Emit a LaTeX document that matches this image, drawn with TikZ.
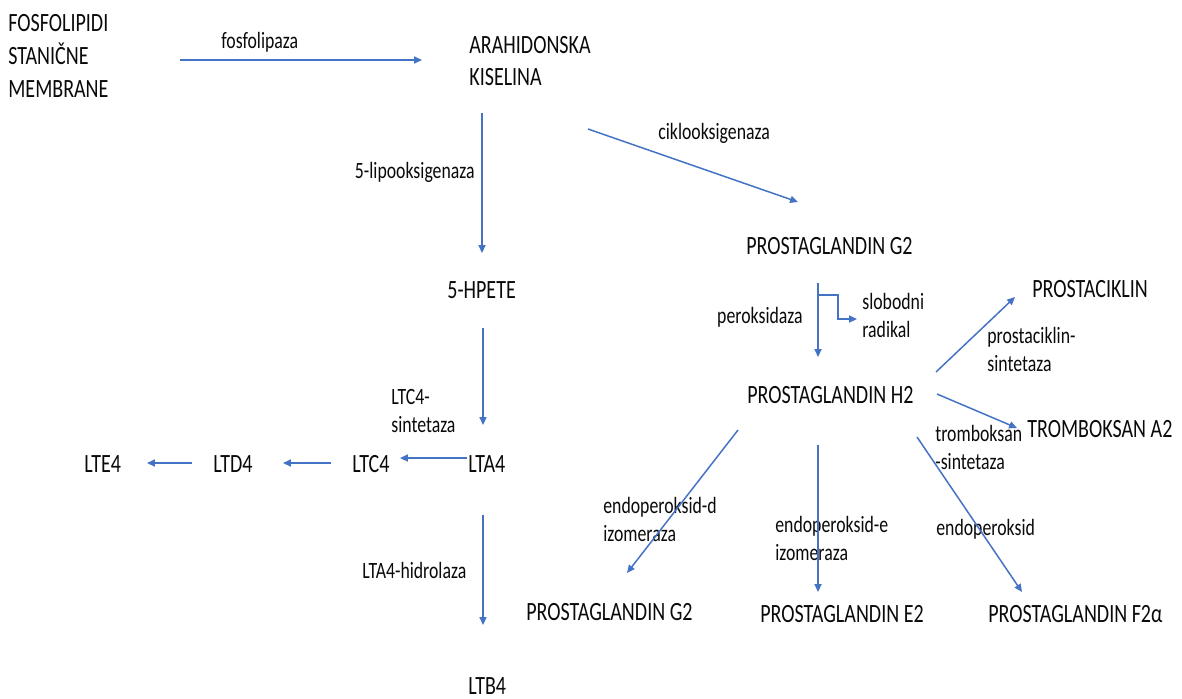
\documentclass[tikz,border=0pt]{standalone}
\usepackage{fontspec}
\usetikzlibrary{arrows.meta,calc}
\newfontfamily\diafont{Carlito}[FakeStretch=0.76]
\definecolor{arrblue}{RGB}{68,114,196}
\definecolor{txtgray}{RGB}{10,10,10}

\begin{document}
\begin{tikzpicture}[x=0.02cm, y=-0.02cm,
    big/.style = {font=\diafont\fontsize{15}{18.7}\selectfont, text=txtgray, inner sep=0},
    lbl/.style = {font=\diafont\fontsize{13.3}{15.9}\selectfont, text=txtgray, inner sep=0},
    arr/.style = {draw=arrblue, line width=0.85pt, -{Triangle[length=4.5pt, width=4pt]}}]

    \useasboundingbox (0,0) rectangle (1182,698);

    \node[big, anchor=west, align=left] (fos) at (8,56) {FOSFOLIPIDI\\STANIČNE\\MEMBRANE};
    \node[big, anchor=west, align=left] (ak) at (469,61) {ARAHIDONSKA\\KISELINA};
    \node[lbl, anchor=base west] (fosfo) at (221,48) {fosfolipaza};
    \draw[arr] ($(fos.west)+(172,4)$) -- ($(ak.west)+(-47,-1)$);

    %--------------------------------------------

    \node[big, anchor=base west] (hpete) at (447,298) {5-HPETE};
    \node[big, anchor=base west] (pgg2) at (746,254) {PROSTAGLANDIN G2};
    \node[lbl, anchor=base east] (lipo) at (475,178) {5-lipooksigenaza};
    \node[lbl, anchor=base west] (ciklo) at (658,139) {ciklooksigenaza};
    \draw[arr] ($(ak.west)+(13,52)$) -- ($(hpete.base west)+(35,-45)$);
    \draw[arr] ($(ak.west)+(119,68)$) -- ($(pgg2.base west)+(52,-52)$);

    %--------------------------------------------

    \node[big, anchor=base west] (lta4) at (468,472) {LTA4};
    \node[big, anchor=base west] (ltc4) at (352,472) {LTC4};
    \node[big, anchor=base west] (ltd4) at (213,472) {LTD4};
    \node[big, anchor=base west] (lte4) at (84,472) {LTE4};
    \node[big, anchor=base west] (ltb4) at (468,694) {LTB4};
    \node[lbl, anchor=west, align=left] (ltc4s) at (391,411) {LTC4-\\sintetaza};
    \node[lbl, anchor=base west] (hidro) at (362,578) {LTA4-hidrolaza};

    \draw[arr] ($(hpete.base west)+(36,30)$) -- ($(lta4.base west)+(15,-47)$);
    \draw[arr] ($(lta4.base west)+(-1,-14)$) -- ($(ltc4.base west)+(48,-14)$);
    \draw[arr] ($(ltc4.base west)+(-21,-9)$) -- ($(ltd4.base west)+(70,-9)$);
    \draw[arr] ($(ltd4.base west)+(-21,-9)$) -- ($(lte4.base west)+(63,-9)$);
    \draw[arr] ($(lta4.base west)+(15,43)$) -- ($(ltb4.base west)+(15,-69)$);

    %--------------------------------------------

    \node[big, anchor=base west] (pgh2) at (747,403) {PROSTAGLANDIN H2};
    \node[lbl, anchor=base east] (perok) at (803,323) {peroksidaza};
    \node[lbl, anchor=west, align=left] (slob) at (862,315) {slobodni\\radikal};
    \draw[arr] ($(pgg2.base west)+(72,29)$) -- ($(pgh2.base west)+(71,-46)$);
    \draw[arr] ($(pgg2.base west)+(72,41)$) -- ++(20,0) |- ($(slob.west)+(-5,4)$);

    %--------------------------------------------

    \node[big, anchor=base west] (prc) at (1032,297) {PROSTACIKLIN};
    \node[big, anchor=base west] (txa2) at (1027,437) {TROMBOKSAN A2};
    \node[lbl, anchor=west, align=left] (prcs) at (987,349) {prostaciklin-\\sintetaza};
    \node[lbl, anchor=west, align=left] (txas) at (935,447) {tromboksan\\-sintetaza};
    \draw[arr] ($(pgh2.base west)+(189,-31)$) -- ($(prc.base west)+(-17,0)$);
    \draw[arr] ($(pgh2.base west)+(190,-9)$) -- ($(txa2.base west)+(-10,-9)$);

    %--------------------------------------------

    \node[big, anchor=base west] (pgg2b) at (526,620) {PROSTAGLANDIN G2};
    \node[big, anchor=base west] (pge2) at (760,622) {PROSTAGLANDIN E2};
    \node[big, anchor=base west] (pgf2) at (988,622) {PROSTAGLANDIN F2α};
    \node[lbl, anchor=west, align=left] (edd) at (603,519) {endoperoksid-d\\izomeraza};
    \node[lbl, anchor=west, align=left] (ede) at (775,538) {endoperoksid-e\\izomeraza};
    \node[lbl, anchor=base west] (endo) at (936,535) {endoperoksid};
    \draw[arr] ($(pgh2.base west)+(-9,27)$) -- ($(pgg2b.base west)+(101,-47)$);
    \draw[arr] ($(pgh2.base west)+(71,42)$) -- ($(pge2.base west)+(58,-30)$);
    \draw[arr] ($(pgh2.base west)+(170,34)$) -- ($(pgf2.base west)+(34,-30)$);

\end{tikzpicture}
\end{document}
